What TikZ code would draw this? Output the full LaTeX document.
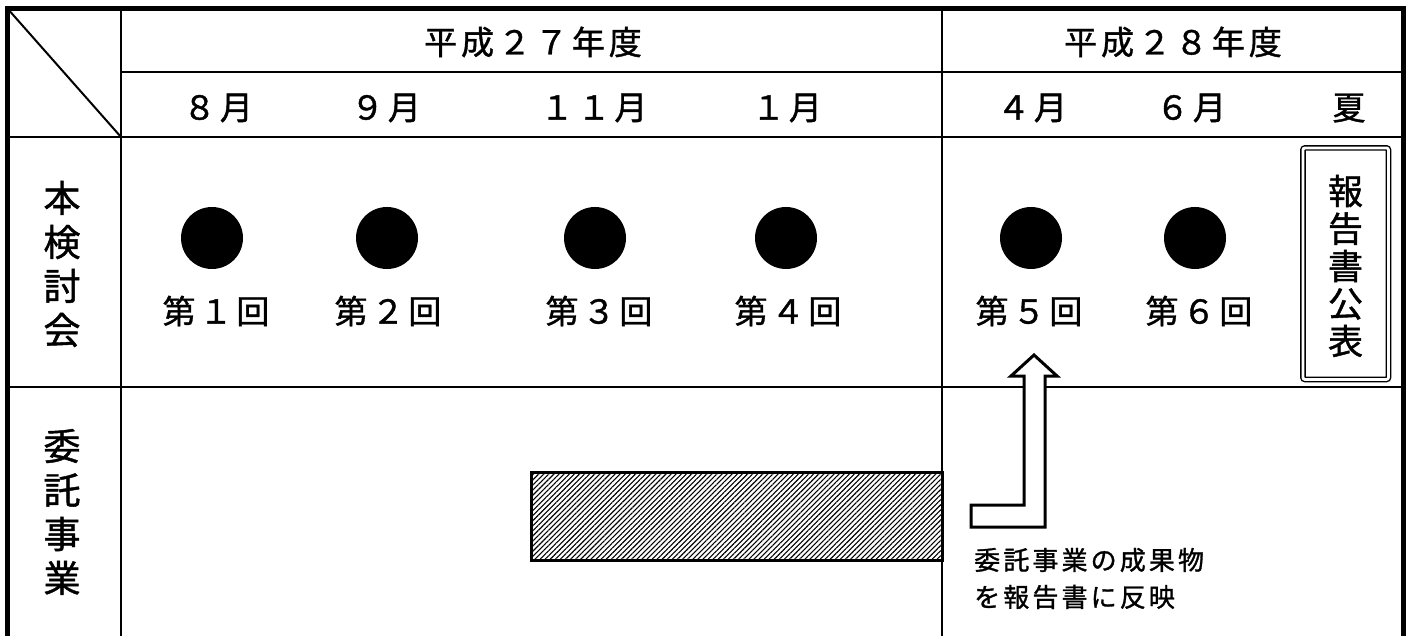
\documentclass[tikz,border=0pt]{standalone}
\usepackage{fontspec}
\newfontfamily\jp[LetterSpace=12,FakeBold=1.2]{Noto Sans CJK JP}
\newfontfamily\jpv[FakeBold=1.2]{Noto Sans CJK JP}
\usetikzlibrary{patterns.meta}
\tikzset{
  big/.style={font=\jp\fontsize{33}{40}\selectfont, inner sep=0pt, anchor=center},
  vlabel/.style={font=\jpv\fontsize{37}{44}\selectfont, inner sep=0pt, align=center},
  small/.style={font=\jp\fontsize{26}{37}\selectfont, inner sep=0pt, align=left, anchor=west},
  meeting/.style={circle, fill=black, minimum size=62pt, inner sep=0pt},
  outer/.style={line width=5pt, line join=miter},
  grid/.style={line width=2.5pt},
  hatchbox/.style={draw, line width=3pt, pattern={Lines[angle=45,distance=3.6pt,line width=1.1pt]}, inner sep=0pt},
  reportbox/.style={draw, double, line width=1.4pt, double distance=2.8pt, rounded corners=2pt, inner sep=0pt},
  blockarrow/.style={draw, fill=white, line width=3pt, line join=miter},
}
\begin{document}
\begin{tikzpicture}[x=1pt,y=-1pt]
\useasboundingbox (0,0) rectangle (1413,636);
% grid
\draw[grid] (121,8) -- (121,637);
\draw[grid] (942,8) -- (942,637);
\draw[grid] (121,72) -- (1403,72);
\draw[grid] (7,137) -- (1403,137);
\draw[grid] (7,387) -- (1403,387);
\draw[line width=2pt] (7,8) -- (121,137);
\draw[outer] (7.5,8.5) rectangle (1403,638);
% headers
\node[big] (h27) at (533,42) {平成２７年度};
\node[big] (h28) at (1173,42) {平成２８年度};
\node[big] (m8) at (218,108) {８月};
\node[big] (m9) at (386,108) {９月};
\node[big] (m11) at (594,108) {１１月};
\node[big] (m1) at (787,108) {１月};
\node[big] (m4) at (1032,108) {４月};
\node[big] (m6) at (1191,108) {６月};
\node[big] (natsu) at (1349,108) {夏};
% row labels
\node[vlabel] (kentou) at (62,264) {本\\検\\討\\会};
\node[vlabel] (itaku) at (62,512) {委\\託\\事\\業};
% meetings
\node[meeting] (c1) at (212,238) {};
\node[meeting] (c2) at (387,238) {};
\node[meeting] (c3) at (595,238) {};
\node[meeting] (c4) at (786,238) {};
\node[meeting] (c5) at (1031,238) {};
\node[meeting] (c6) at (1195,238) {};
\node[big] (l1) at (216,311) {第１回};
\node[big] (l2) at (388,311) {第２回};
\node[big] (l3) at (599,311) {第３回};
\node[big] (l4) at (788,311) {第４回};
\node[big] (l5) at (1029,311) {第５回};
\node[big] (l6) at (1199,311) {第６回};
% report box
\node[reportbox, minimum width=85.5pt, minimum height=231.5pt] (report) at (1345.7,263.7) {};
\node[font=\jpv\fontsize{35}{37.5}\selectfont, inner sep=0pt, align=center] (reporttext) at (1345.5,266) {報\\告\\書\\公\\表};
% hatched bar
\node[hatchbox, minimum width=411pt, minimum height=88pt] (bar) at (736.5,516) {};
\draw[grid] (942,440) -- (942,600);
% block arrow
\coordinate (tip) at (1034,355);
\draw[blockarrow] (971,505) -- (1024,505) -- (1024,376) -- (1011,376) -- (tip) -- (1057,376) -- (1045,376) -- (1045,527) -- (971,527) -- cycle;
\node[small] (note) at (974,578.5) {委託事業の成果物\\を報告書に反映};
\end{tikzpicture}
\end{document}
